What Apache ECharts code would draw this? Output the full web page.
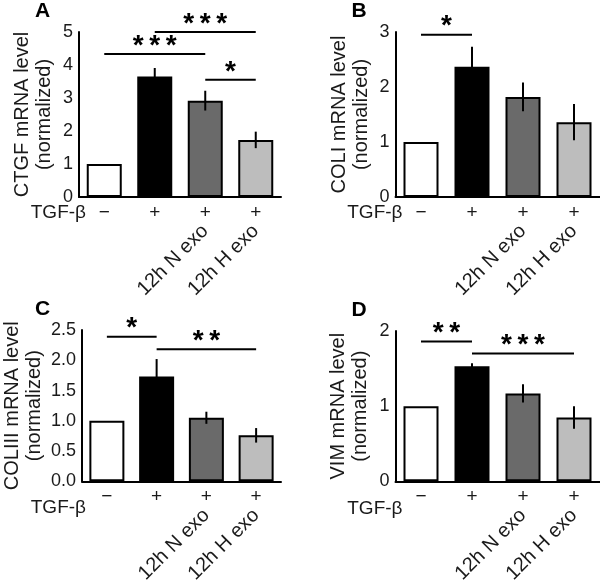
<!DOCTYPE html>
<html>
<head>
<meta charset="utf-8">
<script src="https://cdn.jsdelivr.net/npm/echarts@6/dist/echarts.min.js"></script>
<style>
html,body{margin:0;padding:0;background:#fff;}
#chart{width:600px;height:586px;}
</style>
</head>
<body>
<div id="chart"></div>
<script>
// ---- data ----
const groups = ['Control', 'TGF-β', '12h N exo', '12h H exo'];
const tgfSigns = ['\u2212', '+', '+', '+'];
const exoLabels = ['', '', '12h N exo', '12h H exo'];
const barColors = ['#ffffff', '#000000', '#6a6a6a', '#bdbdbd'];

const panelLetters = ['A', 'B', 'C', 'D'];
const yTitles = ['CTGF mRNA level\n(normalized)', 'COLI mRNA level\n(normalized)',
                 'COLIII mRNA level\n(normalized)', 'VIM mRNA level\n(normalized)'];
const yMax = [5, 3, 2.5, 2];
const yInterval = [1, 1, 0.5, 1];
const yDecimals = [0, 0, 1, 0];

const ctgfMean = [1.0, 3.65, 2.92, 1.73];
const ctgfErr  = [0, 0.26, 0.30, 0.25];
const coliMean = [1.0, 2.37, 1.82, 1.36];
const coliErr  = [0, 0.36, 0.26, 0.33];
const coliiiMean = [1.0, 1.73, 1.05, 0.76];
const coliiiErr  = [0, 0.29, 0.10, 0.12];
const vimMean = [1.0, 1.53, 1.17, 0.85];
const vimErr  = [0, 0.04, 0.12, 0.15];

// brackets: [fromIndex, toIndex, yValue]
const ctgfSigPos = [[0, 2, 4.33], [1, 3, 5.0], [2, 3, 3.55]];
const ctgfSigText = ['***', '***', '*'];
const coliSigPos = [[0, 1, 2.95]];
const coliSigText = ['*'];
const coliiiSigPos = [[0, 1, 2.39], [1, 3, 2.18]];
const coliiiSigText = ['*', '**'];
const vimSigPos = [[0, 1, 1.86], [1, 3, 1.70]];
const vimSigText = ['**', '***'];

const means = [ctgfMean, coliMean, coliiiMean, vimMean];
const errs = [ctgfErr, coliErr, coliiiErr, vimErr];
const sigPos = [ctgfSigPos, coliSigPos, coliiiSigPos, vimSigPos];
const sigText = [ctgfSigText, coliSigText, coliiiSigText, vimSigText];

// ---- layout ----
const grids = [
  {left: 79, top: 32, width: 202, height: 165},
  {left: 395.5, top: 32, width: 204, height: 165},
  {left: 79, top: 330, width: 202, height: 162},
  {left: 395.5, top: 331, width: 204, height: 162}
];
const nameGaps = [24, 23, 37, 24];
const FONT = 'Arial, "Liberation Sans", Helvetica, sans-serif';
const TXT = '#1a1a1a';

const option = {
  animation: false,
  backgroundColor: '#fff',
  grid: grids.map(g => Object.assign({containLabel: false}, g)),
  xAxis: [],
  yAxis: [],
  series: [],
  graphic: []
};

for (let p = 0; p < 4; p++) {
  option.xAxis.push({
    type: 'category', gridIndex: p, data: groups,
    axisLine: {show: true, lineStyle: {color: '#000', width: 2}},
    axisTick: {show: false},
    axisLabel: {interval: 0, margin: 6, fontSize: 19, fontFamily: FONT, color: TXT,
      formatter: (v, i) => tgfSigns[i]}
  });
  option.yAxis.push({
    type: 'value', gridIndex: p, min: 0, max: yMax[p], interval: yInterval[p],
    splitLine: {show: false},
    axisLine: {show: true, lineStyle: {color: '#000', width: 2}},
    axisTick: {show: false},
    axisLabel: {margin: 6, fontSize: 18, fontFamily: FONT, color: TXT,
      formatter: v => v.toFixed(yDecimals[p])},
    name: yTitles[p], nameLocation: 'middle', nameRotate: 90, nameGap: nameGaps[p],
    nameTextStyle: {fontSize: 20, lineHeight: 22, fontFamily: FONT, color: TXT, align: 'center'}
  });
}
for (let p = 0; p < 4; p++) {
  option.xAxis.push({
    type: 'category', gridIndex: p, data: groups, position: 'bottom',
    axisLine: {show: false}, axisTick: {show: false},
    axisLabel: {interval: 0, rotate: 45, margin: 31, fontSize: 20, fontFamily: FONT, color: TXT,
      formatter: (v, i) => exoLabels[i]}
  });
}

for (let p = 0; p < 4; p++) {
  // bars
  option.series.push({
    type: 'bar', xAxisIndex: p, yAxisIndex: p, barWidth: 35,
    data: means[p].map((v, i) => ({value: v, itemStyle: {color: barColors[i]}})),
    itemStyle: {borderColor: '#000', borderWidth: 2},
    silent: true
  });
  // error bars
  option.series.push({
    type: 'custom', xAxisIndex: p, yAxisIndex: p, silent: true, z: 5,
    data: means[p].map((v, i) => [i, v, errs[p][i]]),
    renderItem: function (params, api) {
      const i = api.value(0), v = api.value(1), e = api.value(2);
      if (!e) return null;
      const a = api.coord([i, v - e]);
      const b = api.coord([i, v + e]);
      return {type: 'line', shape: {x1: a[0], y1: a[1], x2: b[0], y2: b[1]},
        style: {stroke: '#000', lineWidth: 2}};
    }
  });
  // significance brackets
  const texts = sigText[p];
  option.series.push({
    type: 'custom', xAxisIndex: p, yAxisIndex: p, silent: true, z: 6, clip: false,
    data: sigPos[p],
    renderItem: function (params, api) {
      const f = api.value(0), t = api.value(1), y = api.value(2);
      const a = api.coord([f, y]);
      const b = api.coord([t, y]);
      const s = texts[params.dataIndex].split('').join('\u2009');
      return {type: 'group', children: [
        {type: 'line', shape: {x1: a[0], y1: a[1], x2: b[0], y2: b[1]},
          style: {stroke: '#000', lineWidth: 2}},
        {type: 'text', style: {text: s, x: (a[0] + b[0]) / 2, y: a[1] + 6,
          textAlign: 'center', textVerticalAlign: 'bottom', align: 'center', verticalAlign: 'bottom',
          font: 'bold 28px ' + FONT, fill: '#000'}}
      ]};
    }
  });
  // panel letter & TGF-β label
  const g = grids[p];
  option.graphic.push({
    type: 'text', left: g.left - 44, top: g.top - 31,
    style: {text: panelLetters[p], font: 'bold 21px ' + FONT, fill: '#000'}
  });
  option.graphic.push({
    type: 'text', x: g.left + 7, y: g.top + g.height + 16,
    style: {text: 'TGF-β', font: '19px ' + FONT, fill: TXT, textAlign: 'right', textVerticalAlign: 'middle', align: 'right', verticalAlign: 'middle'}
  });
}

const chart = echarts.init(document.getElementById('chart'), null, {renderer: 'canvas'});
chart.setOption(option);
</script>
</body>
</html>
